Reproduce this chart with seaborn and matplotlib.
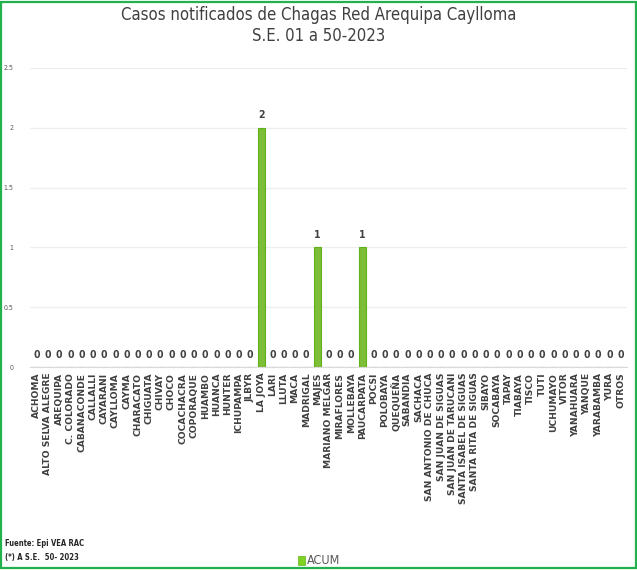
import matplotlib
matplotlib.use('Agg')
import matplotlib.pyplot as plt
from matplotlib.patches import Rectangle
import seaborn as sns
import pandas as pd

# Data
distritos = ['ACHOMA', 'ALTO SELVA ALEGRE', 'AREQUIPA', 'C. COLORADO', 'CABANACONDE',
             'CALLALLI', 'CAYARANI', 'CAYLLOMA', 'CAYMA', 'CHARACATO', 'CHIGUATA',
             'CHIVAY', 'CHOCO', 'COCACHACRA', 'COPORAQUE', 'HUAMBO', 'HUANCA',
             'HUNTER', 'ICHUPAMPA', 'JLBYR', 'LA JOYA', 'LARI', 'LLUTA', 'MACA',
             'MADRIGAL', 'MAJES', 'MARIANO MELGAR', 'MIRAFLORES', 'MOLLEBAYA',
             'PAUCARPATA', 'POCSI', 'POLOBAYA', 'QUEQUEÑA', 'SABANDIA', 'SACHACA',
             'SAN ANTONIO DE CHUCA', 'SAN JUAN DE SIGUAS', 'SAN JUAN DE TARUCANI',
             'SANTA ISABEL DE SIGUAS', 'SANTA RITA DE SIGUAS', 'SIBAYO', 'SOCABAYA',
             'TAPAY', 'TIABAYA', 'TISCO', 'TUTI', 'UCHUMAYO', 'VITOR', 'YANAHUARA',
             'YANQUE', 'YARABAMBA', 'YURA', 'OTROS']
acum = [0] * len(distritos)
acum[distritos.index('LA JOYA')] = 2
acum[distritos.index('MAJES')] = 1
acum[distritos.index('PAUCARPATA')] = 1
y_ticks = [0, 0.5, 1, 1.5, 2, 2.5]
y_labels = ['0', '0.5', '1', '1.5', '2', '2.5']

df = pd.DataFrame({'distrito': distritos, 'ACUM': acum})

sns.set_style('white')
plt.rcParams['font.family'] = ['DejaVu Sans']
cond = dict(family='DejaVu Sans', stretch='condensed')

fig = plt.figure(figsize=(6.37, 5.70), dpi=100)
ax = fig.add_axes([0.047, 0.356, 0.938, 0.525])

sns.barplot(data=df, x='distrito', y='ACUM', color='#7ED321', width=0.6,
            edgecolor='#5FB319', linewidth=0.8, ax=ax)

ax.set_ylim(0, 2.5)
ax.set_xlim(-0.6, len(distritos) - 0.4)
ax.set_yticks(y_ticks)
ax.set_yticklabels(y_labels, fontsize=5, color='#595959', **cond)
ax.tick_params(axis='y', length=0, pad=12)
ax.tick_params(axis='x', length=0, pad=4)
ax.yaxis.grid(True, color='#EEEEEE', linewidth=0.9)
ax.set_axisbelow(True)
for s in ['top', 'right', 'left']:
    ax.spines[s].set_visible(False)
ax.spines['bottom'].set_color('#D9D9D9')
ax.set_xlabel('')
ax.set_ylabel('')
ax.set_xticks(range(len(distritos)))
ax.set_xticklabels(distritos, rotation=90, fontsize=6.6, fontweight='bold',
                   color='#404040')

for i, v in enumerate(acum):
    ax.text(i, v + 0.06, str(v), ha='center', va='bottom', fontsize=7.5,
            fontweight='bold', color='#404040', **cond)

fig.text(0.5, 0.99, 'Casos notificados de Chagas Red Arequipa Caylloma',
         ha='center', va='top', fontsize=12, color='#404040', **cond)
fig.text(0.5, 0.953, 'S.E. 01 a 50-2023', ha='center', va='top', fontsize=12,
         color='#404040', **cond)

fig.text(0.008, 0.047, 'Fuente: Epi VEA RAC', ha='left', va='center', fontsize=5.5,
         color='#262626', fontweight='bold', **cond)
fig.text(0.008, 0.022, '(*) A S.E.  50- 2023', ha='left', va='center', fontsize=5.5,
         color='#262626', fontweight='bold', **cond)

# legend
fig.patches.append(Rectangle((0.468, 0.008), 0.011, 0.017, transform=fig.transFigure,
                             facecolor='#7ED321', edgecolor='#5FB319', linewidth=0.5))
fig.text(0.482, 0.016, 'ACUM', ha='left', va='center', fontsize=9, color='#595959',
         **cond)

# outer green frame
fig.patches.append(Rectangle((0.002, 0.003), 0.996, 0.994, transform=fig.transFigure,
                             fill=False, edgecolor='#22B14C', linewidth=1.6))

fig.savefig('out.png', dpi=100)
